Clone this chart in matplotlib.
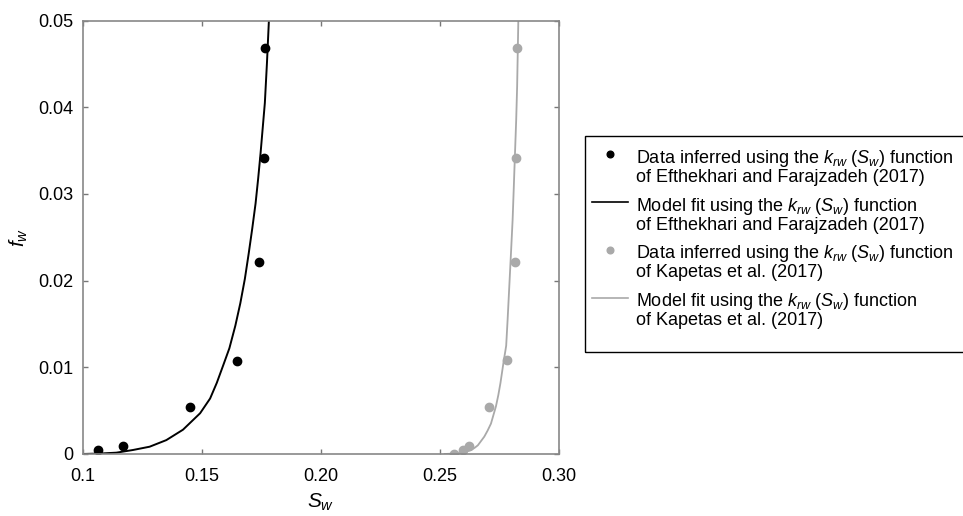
import numpy as np
import matplotlib
matplotlib.use("Agg")
import matplotlib.pyplot as plt
from matplotlib.patches import Rectangle

plt.rcParams['font.family'] = ['Liberation Sans', 'DejaVu Sans']
plt.rcParams['mathtext.fontset'] = 'custom'
plt.rcParams['mathtext.rm'] = 'Liberation Sans'
plt.rcParams['mathtext.it'] = 'Liberation Sans:italic'

# data
ef_sw = [0.1062, 0.1168, 0.1449, 0.1649, 0.1741, 0.1761, 0.1765]
ef_fw = [0.00046, 0.00096, 0.0054, 0.01076, 0.0221, 0.0341, 0.0468]
ka_sw = [0.2559, 0.2595, 0.2623, 0.2707, 0.2780, 0.2813, 0.2820, 0.2823]
ka_fw = [0.0000, 0.00046, 0.00096, 0.0054, 0.0108, 0.0221, 0.0341, 0.0468]

ef_fit_sw = [0.100, 0.107, 0.114, 0.121, 0.128, 0.135, 0.142, 0.1492, 0.1534, 0.1562,
             0.1590, 0.1615, 0.1640, 0.1661, 0.1680, 0.1696, 0.1711, 0.1725, 0.1736,
             0.1746, 0.1755, 0.1764, 0.1773, 0.1781]
ef_fit_fw = [0.0, 0.00005, 0.00015, 0.00046, 0.00084, 0.0016, 0.0028, 0.0047, 0.0064, 0.0082,
             0.0103, 0.0122, 0.0148, 0.0174, 0.0202, 0.0231, 0.0260, 0.0289, 0.0318,
             0.0347, 0.0376, 0.0405, 0.0452, 0.0500]
ka_fit_sw = [0.252, 0.2588, 0.2610, 0.2630, 0.2645, 0.2659, 0.2686, 0.2700, 0.2714, 0.2735,
             0.2745, 0.2754, 0.2768, 0.2774, 0.2778, 0.2784, 0.2791, 0.2798, 0.2805,
             0.2810, 0.2815, 0.2820, 0.2824, 0.2829]
ka_fit_fw = [0.0, 0.00008, 0.00025, 0.00046, 0.0007, 0.0010, 0.0020, 0.0027, 0.0035, 0.0055,
             0.0068, 0.0082, 0.0108, 0.0118, 0.0125, 0.0155, 0.0193, 0.0231, 0.0270,
             0.0308, 0.0347, 0.0385, 0.0424, 0.0500]

xticks = [0.1, 0.15, 0.20, 0.25, 0.30]
xticklabels = ['0.1', '0.15', '0.20', '0.25', '0.30']
yticks = [0, 0.01, 0.02, 0.03, 0.04, 0.05]
yticklabels = ['0', '0.01', '0.02', '0.03', '0.04', '0.05']

labels = [
    'Data inferred using the $k_{rw}$ $(S_w)$ function\nof Efthekhari and Farajzadeh (2017)',
    'Model fit using the $k_{rw}$ $(S_w)$ function\nof Efthekhari and Farajzadeh (2017)',
    'Data inferred using the $k_{rw}$ $(S_w)$ function\nof Kapetas et al. (2017)',
    'Model fit using the $k_{rw}$ $(S_w)$ function\nof Kapetas et al. (2017)',
]

grey = '#a9a9a9'

fig = plt.figure(figsize=(9.63, 5.16), dpi=100)
ax = fig.add_axes([0.0862, 0.1202, 0.4943, 0.8398])

h1, = ax.plot(ef_sw, ef_fw, 'o', color='black', markersize=6, linestyle='none')
h2, = ax.plot(ef_fit_sw, ef_fit_fw, '-', color='black', lw=1.4)
h3, = ax.plot(ka_sw, ka_fw, 'o', color=grey, markersize=6, linestyle='none')
h4, = ax.plot(ka_fit_sw, ka_fit_fw, '-', color=grey, lw=1.3)

ax.set_xlim(0.1, 0.3)
ax.set_ylim(0, 0.05)
ax.set_xticks(xticks)
ax.set_xticklabels(xticklabels)
ax.set_yticks(yticks)
ax.set_yticklabels(yticklabels)
ax.tick_params(direction='in', length=3.5, width=1, color='#777777',
               top=True, right=True, labelsize=13)
ax.tick_params(axis='y', pad=7)
ax.tick_params(axis='x', pad=10)
for s in ax.spines.values():
    s.set_color('#888888')
    s.set_linewidth(1.2)

ax.set_xlabel('$S_w$', fontsize=15, labelpad=5)
ax.set_ylabel('$f_w$', fontsize=15, labelpad=6)

leg = fig.legend([h1, h2, h3, h4], labels, loc='upper left',
                 bbox_to_anchor=(0.615, 0.714), bbox_transform=fig.transFigure,
                 frameon=False, fontsize=13, numpoints=1, handlelength=2.0,
                 handletextpad=0.45, labelspacing=0.55, borderpad=0, borderaxespad=0,
                 markerscale=0.8)
for t in leg.get_texts():
    t.set_linespacing(1.0)
# put each handle next to the first line of its label
for col in leg._legend_handle_box.get_children():
    for row in col.get_children():
        row.align = 'top'
leg.legend_handles[1].set_linewidth(1.2)
leg.legend_handles[3].set_linewidth(1.2)

fig.patches.append(Rectangle((585 / 963, 1 - 352 / 516), 0.45, 216 / 516,
                             transform=fig.transFigure, fill=False,
                             edgecolor='black', linewidth=1.0))

fig.savefig('out.png', dpi=100)
